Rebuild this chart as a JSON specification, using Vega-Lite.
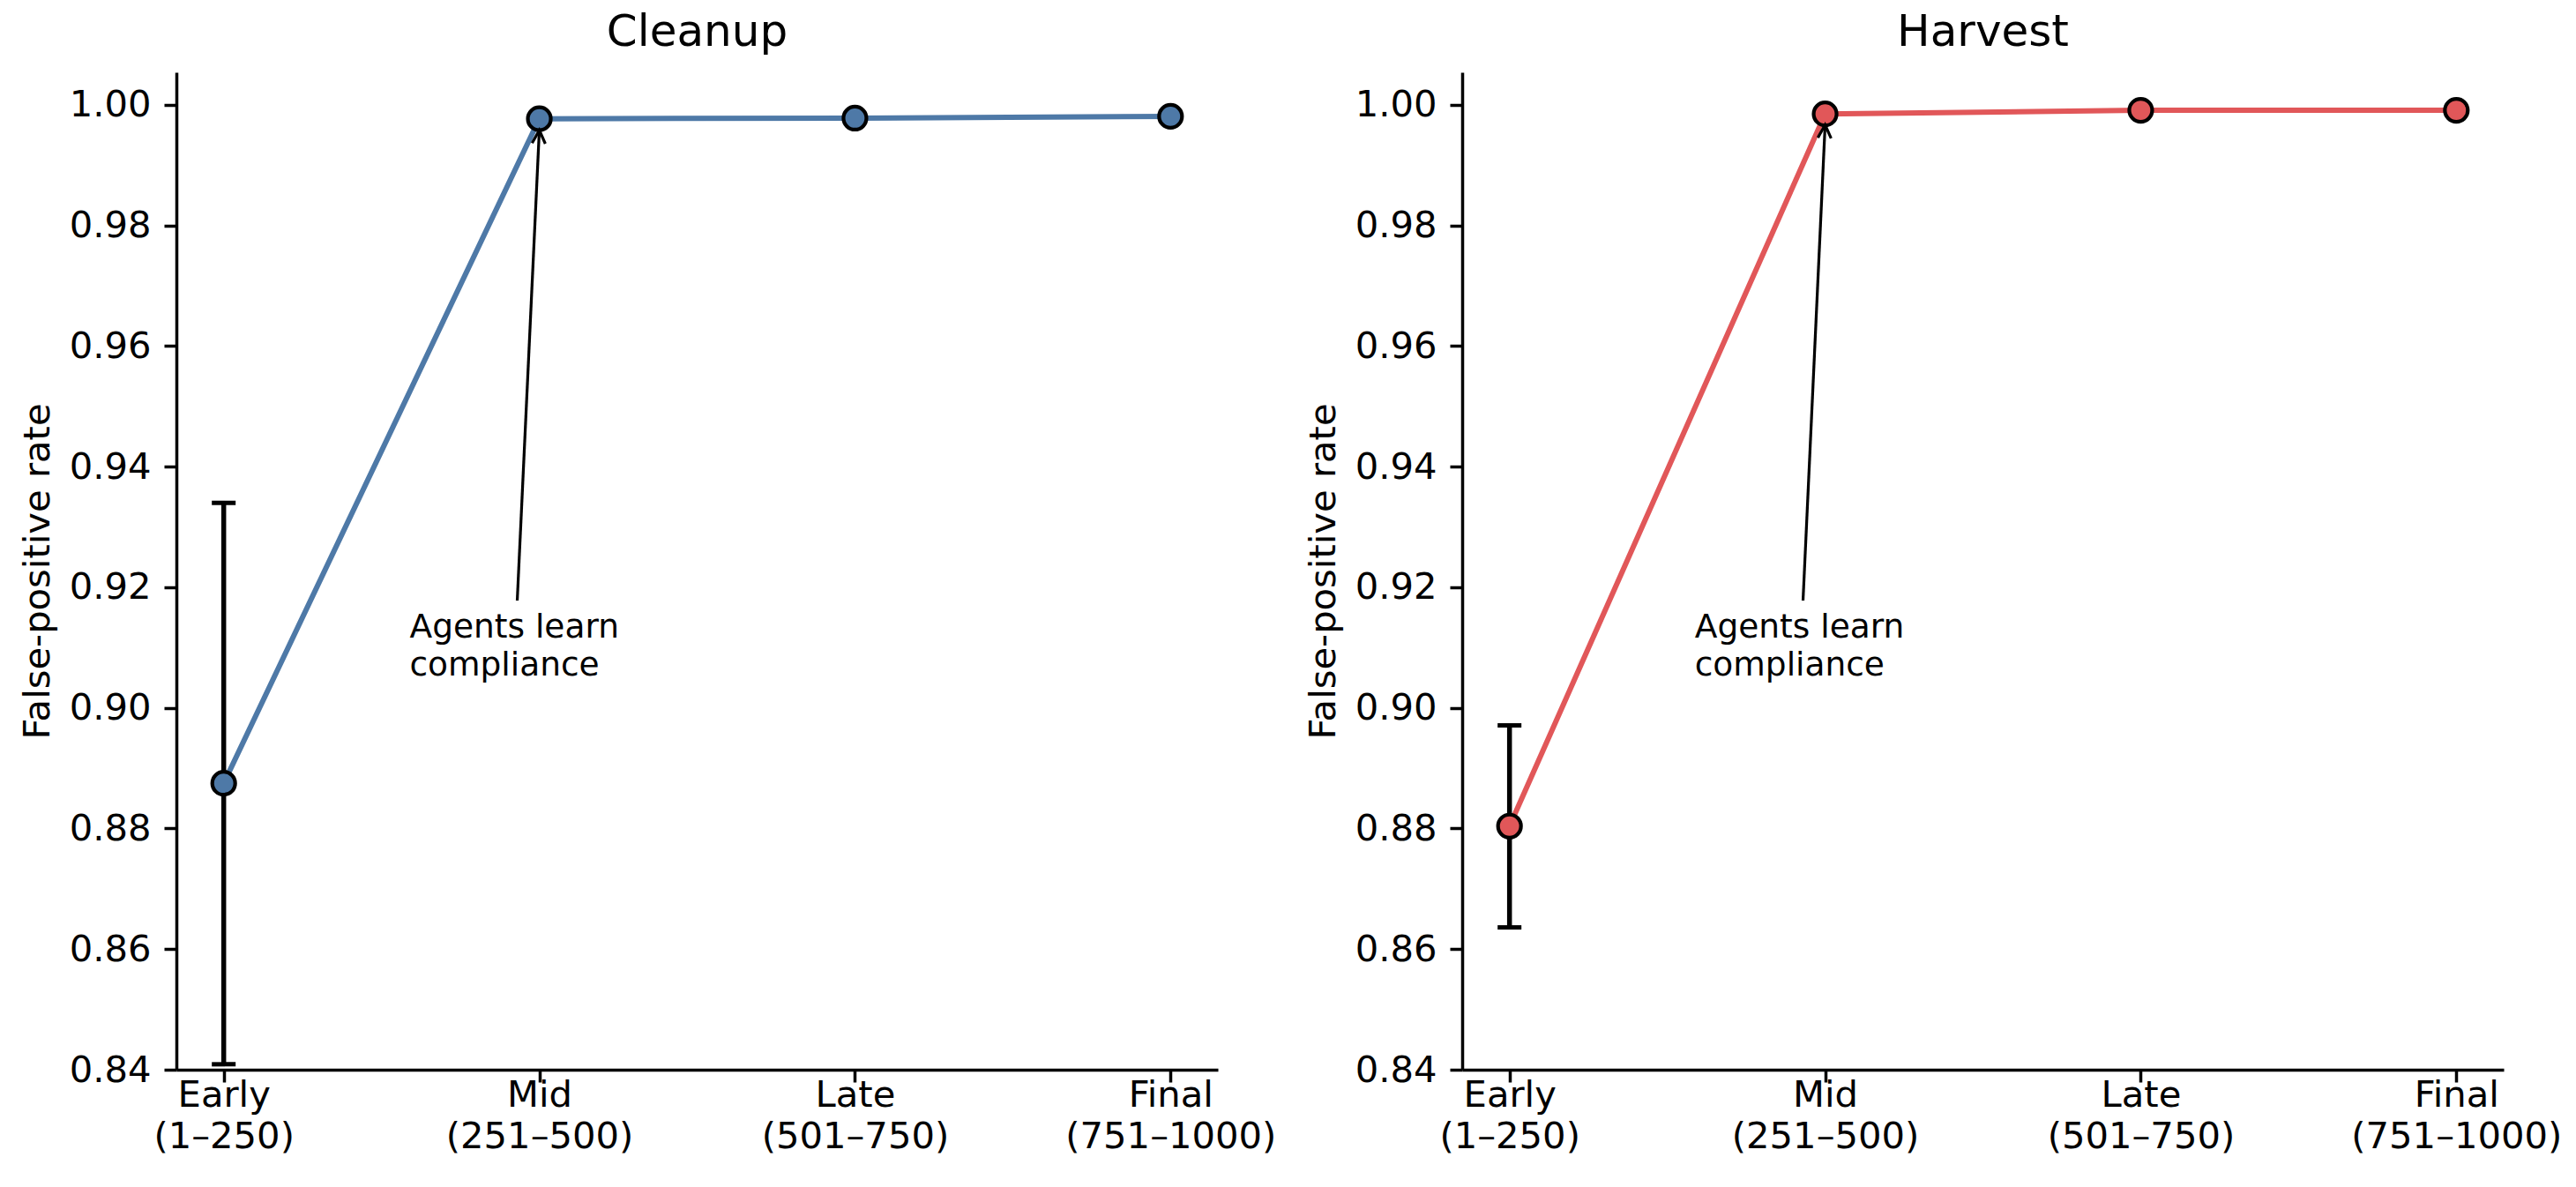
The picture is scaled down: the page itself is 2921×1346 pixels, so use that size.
{
  "$schema": "https://vega.github.io/schema/vega-lite/v6.json",
  "background": "white",
  "padding": {"left": 22, "top": 12, "right": 5, "bottom": 5},
  "datasets": {
    "pts": [
      {"panel": "Cleanup", "stage": 0, "rate": 0.8875, "lo": 0.8409, "hi": 0.934},
      {"panel": "Cleanup", "stage": 1, "rate": 0.9977},
      {"panel": "Cleanup", "stage": 2, "rate": 0.9978},
      {"panel": "Cleanup", "stage": 3, "rate": 0.9981},
      {"panel": "Harvest", "stage": 0, "rate": 0.8804, "lo": 0.8636, "hi": 0.8971},
      {"panel": "Harvest", "stage": 1, "rate": 0.9985},
      {"panel": "Harvest", "stage": 2, "rate": 0.9991},
      {"panel": "Harvest", "stage": 3, "rate": 0.9991}
    ],
    "notes": [
      {"panel": "Cleanup", "tx": 0.589, "ty": 0.9117, "sx": 0.93, "sy": 0.9178, "ex": 1, "ey": 0.9958, "note": "Agents learn\ncompliance"},
      {"panel": "Harvest", "tx": 0.587, "ty": 0.9117, "sx": 0.93, "sy": 0.9178, "ex": 1, "ey": 0.9967, "note": "Agents learn\ncompliance"}
    ]
  },
  "config": {
    "view": {"stroke": null},
    "font": "DejaVu Sans",
    "axis": {
      "grid": false,
      "domainColor": "black",
      "domainWidth": 3.5,
      "tickColor": "black",
      "tickWidth": 3.5,
      "tickSize": 14,
      "labelColor": "black",
      "labelFont": "DejaVu Sans",
      "labelFontSize": 41.7,
      "labelLimit": 0,
      "titleColor": "black",
      "titleFont": "DejaVu Sans",
      "titleFontSize": 41.7,
      "titleFontWeight": "normal"
    },
    "title": {"font": "DejaVu Sans", "fontSize": 50, "fontWeight": "normal", "color": "black"}
  },
  "spacing": 277,
  "bounds": "flush",
  "hconcat": [
    {
      "width": 1181,
      "height": 1131,
      "title": {"text": "Cleanup", "offset": 20},
      "layer": [
        {
          "data": {"name": "pts"},
          "transform": [{"filter": "datum.panel == 'Cleanup' && isValid(datum.lo)"}],
          "mark": {"type": "rule", "color": "black", "strokeWidth": 5.5},
          "encoding": {
            "x": {"field": "stage", "type": "quantitative"},
            "y": {"field": "lo", "type": "quantitative"},
            "y2": {"field": "hi"}
          }
        },
        {
          "data": {"name": "pts"},
          "transform": [{"filter": "datum.panel == 'Cleanup' && isValid(datum.lo)"}, {"fold": ["lo", "hi"], "as": ["end", "val"]}],
          "mark": {"type": "tick", "orient": "horizontal", "color": "black", "size": 27, "thickness": 5, "opacity": 1},
          "encoding": {
            "x": {"field": "stage", "type": "quantitative"},
            "y": {"field": "val", "type": "quantitative"}
          }
        },
        {
          "data": {"name": "pts"},
          "transform": [{"filter": "datum.panel == 'Cleanup'"}],
          "mark": {"type": "line", "color": "#4e79a7", "strokeWidth": 6},
          "encoding": {
            "x": {"field": "stage", "type": "quantitative"},
            "y": {"field": "rate", "type": "quantitative"}
          }
        },
        {
          "data": {"name": "pts"},
          "transform": [{"filter": "datum.panel == 'Cleanup'"}],
          "mark": {"type": "point", "shape": "circle", "filled": true, "fill": "#4e79a7", "stroke": "black", "strokeWidth": 4.2, "size": 676, "opacity": 1},
          "encoding": {
            "x": {"field": "stage", "type": "quantitative", "scale": {"domain": [-0.15, 3.15], "nice": false, "zero": false},
              "axis": {"title": null, "values": [0, 1, 2, 3], "labelPadding": -6, "labelLineHeight": 47,
                "labelExpr": "[['Early','(1–250)'],['Mid','(251–500)'],['Late','(501–750)'],['Final','(751–1000)']][datum.value]"}},
            "y": {"field": "rate", "type": "quantitative", "scale": {"domain": [0.84, 1.0054], "nice": false, "zero": false},
              "axis": {"title": "False-positive rate", "values": [0.84, 0.86, 0.88, 0.9, 0.92, 0.94, 0.96, 0.98, 1.0], "format": ".2f", "labelPadding": 15, "titlePadding": 14}}
          }
        },
        {
          "data": {"name": "notes"},
          "transform": [{"filter": "datum.panel == 'Cleanup'"}],
          "mark": {"type": "rule", "color": "black", "strokeWidth": 3.2},
          "encoding": {
            "x": {"field": "sx", "type": "quantitative"},
            "y": {"field": "sy", "type": "quantitative"},
            "x2": {"field": "ex"},
            "y2": {"field": "ey"}
          }
        },
        {
          "data": {"name": "notes"},
          "transform": [{"filter": "datum.panel == 'Cleanup'"}],
          "mark": {"type": "point", "shape": "M-0.5,1L0,0L0.5,1", "filled": false, "stroke": "black", "strokeWidth": 3.2, "size": 900, "angle": 2.7, "opacity": 1},
          "encoding": {
            "x": {"field": "ex", "type": "quantitative"},
            "y": {"field": "ey", "type": "quantitative"}
          }
        },
        {
          "data": {"name": "notes"},
          "transform": [{"filter": "datum.panel == 'Cleanup'"}],
          "mark": {"type": "text", "align": "left", "baseline": "alphabetic", "fontSize": 37.5, "lineBreak": "\n", "lineHeight": 43, "color": "black", "font": "DejaVu Sans"},
          "encoding": {
            "x": {"field": "tx", "type": "quantitative"},
            "y": {"field": "ty", "type": "quantitative"},
            "text": {"field": "note"}
          }
        }
      ]
    },
    {
      "width": 1181,
      "height": 1131,
      "title": {"text": "Harvest", "offset": 20},
      "layer": [
        {
          "data": {"name": "pts"},
          "transform": [{"filter": "datum.panel == 'Harvest' && isValid(datum.lo)"}],
          "mark": {"type": "rule", "color": "black", "strokeWidth": 5.5},
          "encoding": {
            "x": {"field": "stage", "type": "quantitative"},
            "y": {"field": "lo", "type": "quantitative"},
            "y2": {"field": "hi"}
          }
        },
        {
          "data": {"name": "pts"},
          "transform": [{"filter": "datum.panel == 'Harvest' && isValid(datum.lo)"}, {"fold": ["lo", "hi"], "as": ["end", "val"]}],
          "mark": {"type": "tick", "orient": "horizontal", "color": "black", "size": 27, "thickness": 5, "opacity": 1},
          "encoding": {
            "x": {"field": "stage", "type": "quantitative"},
            "y": {"field": "val", "type": "quantitative"}
          }
        },
        {
          "data": {"name": "pts"},
          "transform": [{"filter": "datum.panel == 'Harvest'"}],
          "mark": {"type": "line", "color": "#e15759", "strokeWidth": 6},
          "encoding": {
            "x": {"field": "stage", "type": "quantitative"},
            "y": {"field": "rate", "type": "quantitative"}
          }
        },
        {
          "data": {"name": "pts"},
          "transform": [{"filter": "datum.panel == 'Harvest'"}],
          "mark": {"type": "point", "shape": "circle", "filled": true, "fill": "#e15759", "stroke": "black", "strokeWidth": 4.2, "size": 676, "opacity": 1},
          "encoding": {
            "x": {"field": "stage", "type": "quantitative", "scale": {"domain": [-0.15, 3.15], "nice": false, "zero": false},
              "axis": {"title": null, "values": [0, 1, 2, 3], "labelPadding": -6, "labelLineHeight": 47,
                "labelExpr": "[['Early','(1–250)'],['Mid','(251–500)'],['Late','(501–750)'],['Final','(751–1000)']][datum.value]"}},
            "y": {"field": "rate", "type": "quantitative", "scale": {"domain": [0.84, 1.0054], "nice": false, "zero": false},
              "axis": {"title": "False-positive rate", "values": [0.84, 0.86, 0.88, 0.9, 0.92, 0.94, 0.96, 0.98, 1.0], "format": ".2f", "labelPadding": 15, "titlePadding": 14}}
          }
        },
        {
          "data": {"name": "notes"},
          "transform": [{"filter": "datum.panel == 'Harvest'"}],
          "mark": {"type": "rule", "color": "black", "strokeWidth": 3.2},
          "encoding": {
            "x": {"field": "sx", "type": "quantitative"},
            "y": {"field": "sy", "type": "quantitative"},
            "x2": {"field": "ex"},
            "y2": {"field": "ey"}
          }
        },
        {
          "data": {"name": "notes"},
          "transform": [{"filter": "datum.panel == 'Harvest'"}],
          "mark": {"type": "point", "shape": "M-0.5,1L0,0L0.5,1", "filled": false, "stroke": "black", "strokeWidth": 3.2, "size": 900, "angle": 2.7, "opacity": 1},
          "encoding": {
            "x": {"field": "ex", "type": "quantitative"},
            "y": {"field": "ey", "type": "quantitative"}
          }
        },
        {
          "data": {"name": "notes"},
          "transform": [{"filter": "datum.panel == 'Harvest'"}],
          "mark": {"type": "text", "align": "left", "baseline": "alphabetic", "fontSize": 37.5, "lineBreak": "\n", "lineHeight": 43, "color": "black", "font": "DejaVu Sans"},
          "encoding": {
            "x": {"field": "tx", "type": "quantitative"},
            "y": {"field": "ty", "type": "quantitative"},
            "text": {"field": "note"}
          }
        }
      ]
    }
  ]
}
